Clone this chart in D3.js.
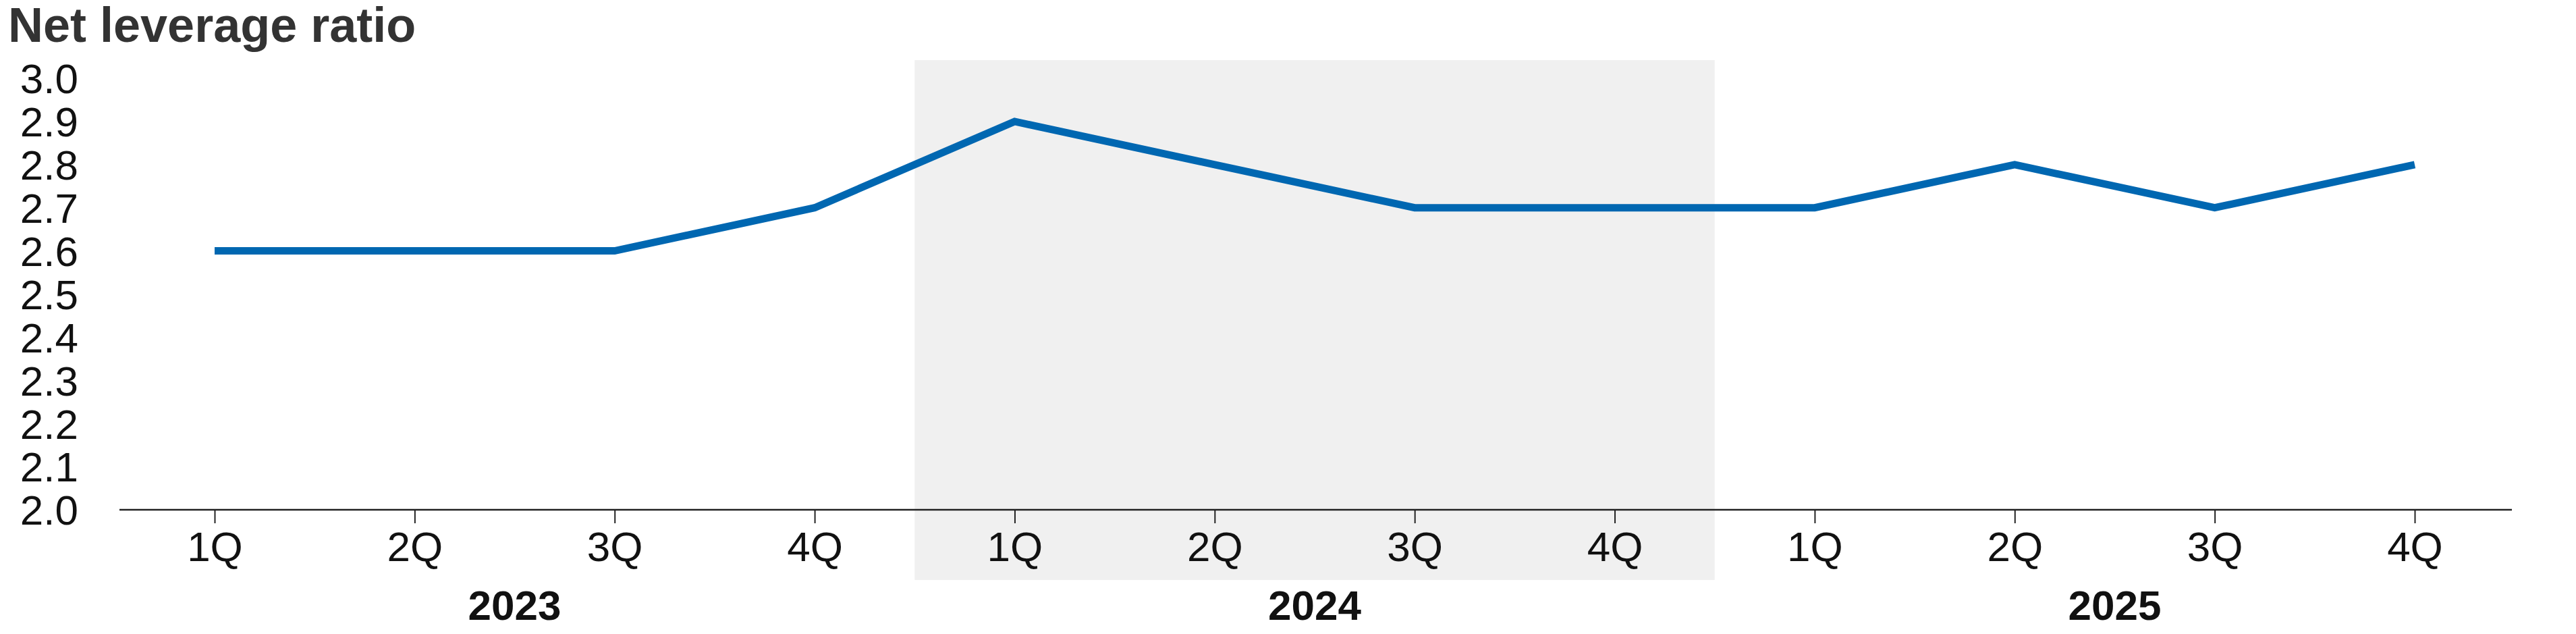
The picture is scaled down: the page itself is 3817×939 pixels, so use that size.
<!DOCTYPE html>
<html>
<head>
<meta charset="utf-8">
<script src="https://cdn.jsdelivr.net/npm/d3@7"></script>
<style>
  body { margin: 0; background: #fff; }
  text { font-family: "Liberation Sans Narrow", "Liberation Sans", sans-serif; }
</style>
</head>
<body>
<div id="chart"></div>
<script>
var quarters = ["1Q", "2Q", "3Q", "4Q", "1Q", "2Q", "3Q", "4Q", "1Q", "2Q", "3Q", "4Q"];
var years = ["2023", "2024", "2025"];
var leverage = [2.6, 2.6, 2.6, 2.7, 2.9, 2.8, 2.7, 2.7, 2.7, 2.8, 2.7, 2.8];
var yTicks = [2.0, 2.1, 2.2, 2.3, 2.4, 2.5, 2.6, 2.7, 2.8, 2.9, 3.0];

var W = 3817, H = 939;
var svg = d3.select("#chart").append("svg")
    .attr("width", W).attr("height", H);

var x = d3.scaleLinear().domain([0, 11]).range([318, 3578]);
var y = d3.scaleLinear().domain([2.0, 3.0]).range([755, 116]);

// shaded 2024 band
svg.append("rect")
    .attr("x", x(3.5)).attr("y", 89)
    .attr("width", x(7.5) - x(3.5)).attr("height", 859 - 89)
    .attr("fill", "#f0f0f0");

svg.append("text")
    .attr("x", 12).attr("y", 62)
    .attr("font-size", 72).attr("font-weight", "bold")
    .attr("fill", "#333")
    .text("Net leverage ratio");

// y labels
svg.selectAll(".ylab").data(yTicks).enter().append("text")
    .attr("class", "ylab")
    .attr("x", 116).attr("y", function(d) { return y(d); })
    .attr("dy", "0.36em").attr("text-anchor", "end")
    .attr("font-size", 62).attr("fill", "#111")
    .text(function(d) { return d.toFixed(1); });

// x axis
var xAxis = d3.axisBottom(x)
    .tickValues(d3.range(12))
    .tickSize(20)
    .tickPadding(12)
    .tickFormat(function(d) { return quarters[d]; });

var ax = svg.append("g")
    .attr("transform", "translate(0,755)")
    .call(xAxis);
ax.select(".domain").remove();
ax.append("line")
    .attr("x1", 177).attr("x2", 3722)
    .attr("stroke", "#222").attr("stroke-width", 2.5);
ax.selectAll(".tick line").attr("stroke", "#222").attr("stroke-width", 2);
ax.selectAll(".tick text")
    .attr("font-size", 62).attr("fill", "#111")
    .attr("font-family", "Liberation Sans Narrow, Liberation Sans, sans-serif");

// year labels
svg.selectAll(".year").data(years).enter().append("text")
    .attr("class", "year")
    .attr("x", function(d, i) { return x(i * 4 + 1.5); })
    .attr("y", 918)
    .attr("text-anchor", "middle")
    .attr("font-size", 62).attr("font-weight", "bold").attr("fill", "#111")
    .text(function(d) { return d; });

var line = d3.line()
    .x(function(d, i) { return x(i); })
    .y(function(d) { return y(d); });

svg.append("path")
    .datum(leverage)
    .attr("d", line)
    .attr("fill", "none")
    .attr("stroke", "#0067b1")
    .attr("stroke-width", 11);
</script>
</body>
</html>
